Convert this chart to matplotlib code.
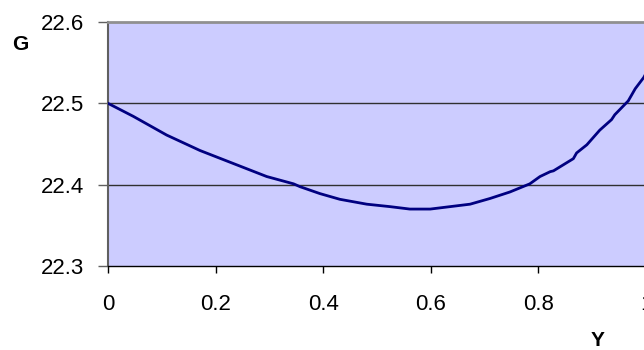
import numpy as np
import matplotlib.pyplot as plt

# curve (gamma vs G)
gamma = [0.0, 0.047, 0.109, 0.171, 0.233, 0.295, 0.345, 0.357, 0.394, 0.431,
         0.481, 0.524, 0.561, 0.599, 0.636, 0.673, 0.710, 0.747, 0.784, 0.803,
         0.822, 0.828, 0.865, 0.871, 0.890, 0.914, 0.936, 0.942, 0.967, 0.980,
         0.996, 1.0]
G = [22.500, 22.484, 22.461, 22.442, 22.426, 22.410, 22.401, 22.3975, 22.389, 22.382,
     22.376, 22.373, 22.370, 22.370, 22.373, 22.376, 22.383, 22.391, 22.401, 22.410,
     22.416, 22.417, 22.432, 22.439, 22.449, 22.467, 22.480, 22.486, 22.503, 22.518,
     22.532, 22.537]

xticks = [0, 0.2, 0.4, 0.6, 0.8, 1]
xlabels = ["0", "0.2", "0.4", "0.6", "0.8", "1"]
yticks = [22.3, 22.4, 22.5, 22.6]
ylabels = ["22.3", "22.4", "22.5", "22.6"]

plt.rcParams['font.family'] = ['Liberation Sans', 'DejaVu Sans']

fig = plt.figure(figsize=(6.44, 3.5), dpi=100)
W, H = 644, 350
ax = fig.add_axes([108 / W, (H - 266) / H, (646 - 108) / W, (266 - 22) / H])
ax.set_facecolor('#ccccff')

for yv in [22.4, 22.5]:
    ax.axhline(yv, color='#303030', lw=1, zorder=1)

ax.plot(gamma, G, color='#000080', lw=2, zorder=3)

ax.set_xlim(0, 1)
ax.set_ylim(22.3, 22.6)
ax.set_xticks(xticks)
ax.set_xticklabels(xlabels, fontsize=16)
ax.set_yticks(yticks)
ax.set_yticklabels(ylabels, fontsize=16,
                   family=['Liberation Sans Narrow', 'Liberation Sans'])
ax.tick_params(axis='x', direction='out', length=5, width=1, pad=15, color='black')
ax.tick_params(axis='y', direction='out', length=7, width=1, pad=10, color='#606060')

ax.spines['top'].set_color('#909090')
ax.spines['top'].set_linewidth(2)
ax.spines['left'].set_color('#606060')
ax.spines['left'].set_linewidth(1.5)
ax.spines['bottom'].set_color('black')
ax.spines['bottom'].set_linewidth(1)
ax.spines['right'].set_visible(False)

fig.text(20 / W, 1 - 45 / H, "G", fontsize=15, fontweight='bold', ha='center', va='center')
fig.text(598 / W, 1 - 340 / H, "Y", fontsize=15, fontweight='bold', ha='center', va='center')

plt.savefig('out.png', dpi=100)
